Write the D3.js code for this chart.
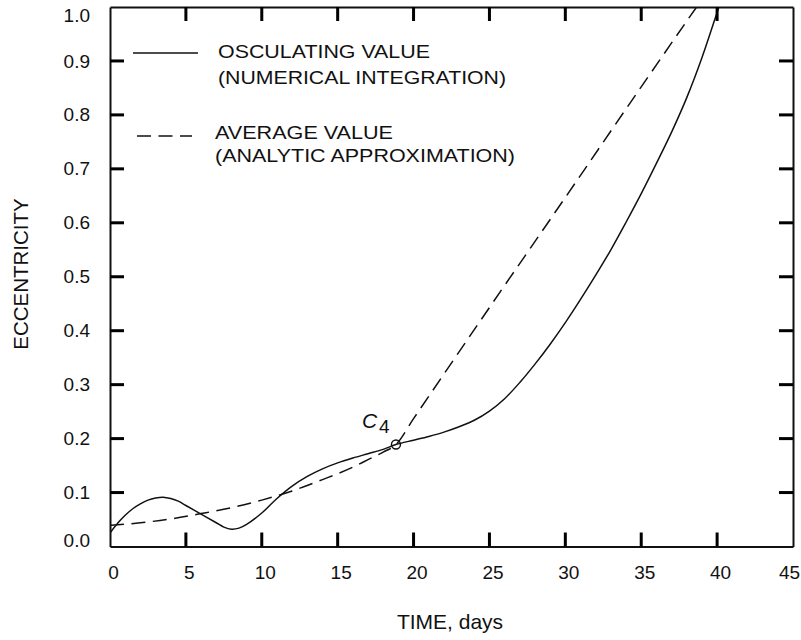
<!DOCTYPE html>
<html>
<head>
<meta charset="utf-8">
<script src="https://cdn.jsdelivr.net/npm/d3@7"></script>
<style>
  body { margin: 0; background: #fff; }
  svg { font-family: "Liberation Sans", Arial, Helvetica, sans-serif; }
  .axis text { fill: #111; font-size: 19px; }
</style>
</head>
<body>
<div id="chart"></div>
<script>
// Data
const xTicks = [0, 5, 10, 15, 20, 25, 30, 35, 40, 45]
const yTicks = [0, 0.1, 0.2, 0.3, 0.4, 0.5, 0.6, 0.7, 0.8, 0.9, 1.0]

// osculating value (numerical integration)
const oscDays = [0, 0.5, 1, 1.5, 2, 2.5, 3, 3.5, 4, 4.5, 5, 6, 7, 7.5, 8, 8.5, 9, 10, 11, 12, 13, 14, 15, 16, 17, 18, 18.84,
  20, 21, 22, 23, 24, 25, 26, 27, 28, 29, 30, 31, 32, 33, 34, 35, 36, 37, 38, 39, 40, 40.12, 40.5]
const oscEcc = [0.025, 0.043, 0.058, 0.070, 0.079, 0.086, 0.090, 0.0915, 0.089, 0.084, 0.076, 0.060, 0.044, 0.036, 0.032, 0.034, 0.041, 0.062, 0.089, 0.112, 0.130, 0.144, 0.155, 0.164, 0.172, 0.180, 0.189,
  0.197, 0.204, 0.212, 0.222, 0.234, 0.251, 0.274, 0.304, 0.338, 0.375, 0.415, 0.458, 0.503, 0.550, 0.601, 0.654, 0.710, 0.768, 0.832, 0.906, 0.990, 1.000, 1.03]

// average value (analytic approximation)
const avgDays = [0, 2, 4, 6, 8, 10, 12, 14, 16, 17, 18, 18.84, 20, 25, 30, 35, 38.65, 39]
const avgEcc = [0.039, 0.044, 0.051, 0.061, 0.072, 0.086, 0.103, 0.124, 0.147, 0.161, 0.175, 0.189, 0.237, 0.443, 0.647, 0.852, 1.0, 1.014]

// C4 point
const c4 = { day: 18.84, ecc: 0.189 }

const oscData = oscDays.map((d, i) => ({ x: d, y: oscEcc[i] }))
const avgData = avgDays.map((d, i) => ({ x: d, y: avgEcc[i] }))

// Dimensions
let dims = {
  width: 801,
  height: 640,
  margin: { top: 7, right: 8, bottom: 93.5, left: 110 }
}
dims.ctrWidth = dims.width - dims.margin.left - dims.margin.right
dims.ctrHeight = dims.height - dims.margin.top - dims.margin.bottom

// Scales
const xScale = d3.scaleLinear().domain([0, 45]).range([0, dims.ctrWidth])
const yScale = d3.scaleLinear().domain([0, 1]).range([dims.ctrHeight, 0])

const svg = d3.select('#chart')
  .append('svg')
  .attr('width', dims.width)
  .attr('height', dims.height)

const ctr = svg.append('g')
  .attr('transform', `translate(${dims.margin.left}, ${dims.margin.top})`)

ctr.append('clipPath').attr('id', 'clip')
  .append('rect')
  .attr('width', dims.ctrWidth)
  .attr('height', dims.ctrHeight)

// Axes: labels + frame
const xAxis = d3.axisBottom(xScale).tickValues(xTicks).tickSize(0).tickPadding(19)
  .tickFormat(d3.format('d'))
const yAxis = d3.axisLeft(yScale).tickValues(yTicks).tickSize(0).tickPadding(20)
  .tickFormat(d3.format('.1f'))
const xTop = d3.axisTop(xScale).tickValues([]).tickSize(0)
const yRight = d3.axisRight(yScale).tickValues([]).tickSize(0)

const xAxisGroup = ctr.append('g').classed('axis', true)
  .attr('transform', `translate(0, ${dims.ctrHeight})`)
  .call(xAxis)
const yAxisGroup = ctr.append('g').classed('axis', true).call(yAxis)
ctr.append('g').classed('axis', true).call(xTop)
ctr.append('g').classed('axis', true)
  .attr('transform', `translate(${dims.ctrWidth}, 0)`)
  .call(yRight)

ctr.selectAll('.axis path.domain').attr('stroke', '#111').attr('stroke-width', 2)

xAxisGroup.selectAll('.tick text')
  .attr('dy', '0.71em')
  .attr('dx', d => d === 45 ? -4 : 3)
yAxisGroup.selectAll('.tick text')
  .attr('y', d => d === 1 ? 8.5 : d === 0 ? -6.5 : 0)

// Inner tick marks on all four sides
const tickLen = 14
const tickW = 3
const xInner = xTicks.filter(d => d > 0 && d < 45)
const yInner = yTicks.filter(d => d > 0 && d < 1)
const tickG = svg.append('g')
  .attr('transform', `translate(${dims.margin.left}, ${dims.margin.top})`)
  .attr('fill', '#000')

tickG.selectAll('rect.xb').data(xInner).join('rect')
  .attr('class', 'xb')
  .attr('x', d => xScale(d) - tickW / 2)
  .attr('y', dims.ctrHeight - tickLen)
  .attr('width', tickW).attr('height', tickLen)
tickG.selectAll('rect.xt').data(xInner).join('rect')
  .attr('class', 'xt')
  .attr('x', d => xScale(d) - tickW / 2)
  .attr('y', 0)
  .attr('width', tickW).attr('height', tickLen)
tickG.selectAll('rect.yl').data(yInner).join('rect')
  .attr('class', 'yl')
  .attr('x', 0)
  .attr('y', d => yScale(d) - tickW / 2)
  .attr('width', tickLen).attr('height', tickW)
tickG.selectAll('rect.yr').data(yInner).join('rect')
  .attr('class', 'yr')
  .attr('x', dims.ctrWidth - tickLen)
  .attr('y', d => yScale(d) - tickW / 2)
  .attr('width', tickLen).attr('height', tickW)

// Curves
const line = d3.line()
  .x(d => xScale(d.x))
  .y(d => yScale(d.y))

const curves = ctr.append('g').attr('clip-path', 'url(#clip)')

curves.append('path')
  .datum(oscData)
  .attr('d', line.curve(d3.curveCatmullRom.alpha(0.5)))
  .attr('fill', 'none')
  .attr('stroke', '#111')
  .attr('stroke-width', 1.5)

curves.append('path')
  .datum(avgData)
  .attr('d', line.curve(d3.curveMonotoneX))
  .attr('fill', 'none')
  .attr('stroke', '#111')
  .attr('stroke-width', 1.5)
  .attr('stroke-dasharray', '14,7.5')

// C4 marker
ctr.append('circle')
  .attr('cx', xScale(c4.day))
  .attr('cy', yScale(c4.ecc))
  .attr('r', 4.5)
  .attr('fill', 'none')
  .attr('stroke', '#111')
  .attr('stroke-width', 1.4)

const c4Label = ctr.append('text')
  .attr('x', xScale(c4.day) - 34)
  .attr('y', yScale(c4.ecc) - 16.5)
  .attr('font-size', 21)
  .attr('fill', '#111')
c4Label.append('tspan').attr('font-style', 'italic').text('C')
c4Label.append('tspan').attr('dx', 2).attr('dy', 5).attr('font-size', 19).text('4')

// Legend
const legend = svg.append('g')
legend.append('line')
  .attr('x1', 133).attr('x2', 198).attr('y1', 53).attr('y2', 53)
  .attr('stroke', '#111').attr('stroke-width', 1.5)
legend.append('line')
  .attr('x1', 137).attr('x2', 192).attr('y1', 136).attr('y2', 136)
  .attr('stroke', '#111').attr('stroke-width', 1.5)
  .attr('stroke-dasharray', '14,7.5')

const legendText = [
  { text: 'OSCULATING VALUE', x: 218, y: 58, w: 212 },
  { text: '(NUMERICAL INTEGRATION)', x: 218, y: 84, w: 288 },
  { text: 'AVERAGE VALUE', x: 215, y: 139, w: 178 },
  { text: '(ANALYTIC APPROXIMATION)', x: 215, y: 162, w: 300 }
]
legend.selectAll('text.leg')
  .data(legendText)
  .join('text')
  .attr('class', 'leg')
  .attr('x', d => d.x)
  .attr('y', d => d.y)
  .attr('textLength', d => d.w)
  .attr('lengthAdjust', 'spacingAndGlyphs')
  .attr('font-size', 18.5)
  .attr('fill', '#111')
  .text(d => d.text)

// Axis titles
svg.append('text')
  .text('TIME, days')
  .attr('x', 450)
  .attr('y', 629)
  .attr('text-anchor', 'middle')
  .attr('font-size', 21)
  .attr('fill', '#111')

svg.append('text')
  .text('ECCENTRICITY')
  .attr('transform', 'translate(27.5, 274) rotate(-90)')
  .attr('text-anchor', 'middle')
  .attr('font-size', 20.5)
  .attr('fill', '#111')
</script>
</body>
</html>
